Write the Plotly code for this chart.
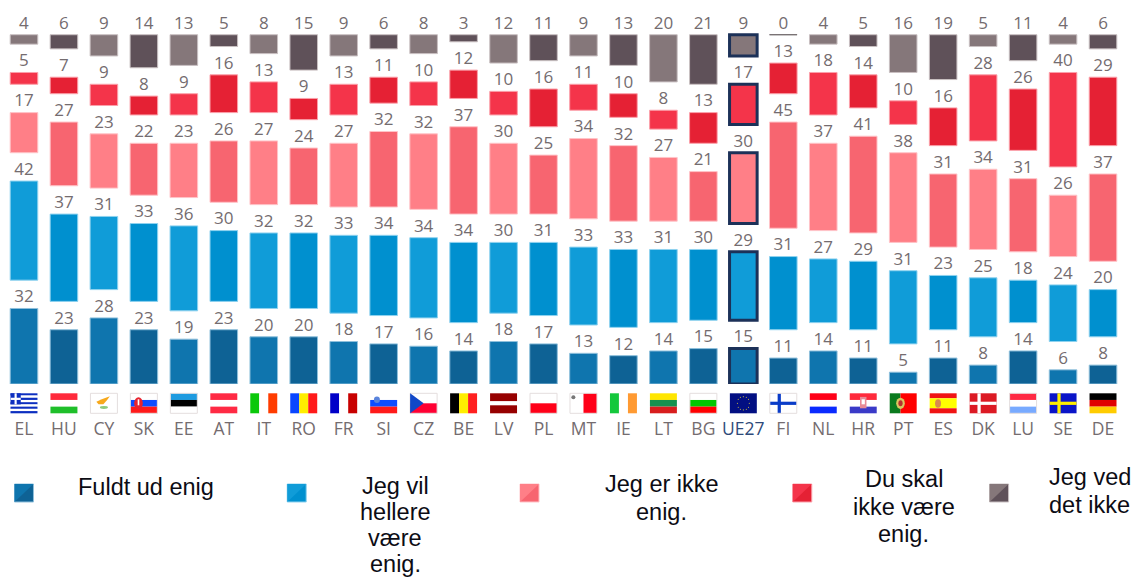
import plotly.graph_objects as go

categories = ["EL","HU","CY","SK","EE","AT","IT","RO","FR","SI","CZ","BE","LV","PL","MT","IE","LT","BG","UE27","FI","NL","HR","PT","ES","DK","LU","SE","DE"]
fuldt = [32,23,28,23,19,23,20,20,18,17,16,14,18,17,13,12,14,15,15,11,14,11,5,11,8,14,6,8]
hellere = [42,37,31,33,36,30,32,32,33,34,34,34,30,31,33,33,31,30,29,31,27,29,31,23,25,18,24,20]
ikke_enig = [17,27,23,22,23,26,27,24,27,32,32,37,30,25,34,32,27,21,30,45,37,41,38,31,34,31,26,37]
du_skal = [5,7,9,8,9,16,13,9,13,11,10,12,10,16,11,10,8,13,17,13,18,14,10,16,28,26,40,29]
ved_ikke = [4,6,9,14,13,5,8,15,9,6,8,3,12,11,9,13,20,21,9,0,4,5,16,19,5,11,4,6]

series = [fuldt, hellere, ikke_enig, du_skal, ved_ikke]
names = ["Fuldt ud enig", "Jeg vil hellere være enig.", "Jeg er ikke enig.", "Du skal ikke være enig.", "Jeg ved det ikke"]
light = ["#0f75ae", "#109cd8", "#ff7f87", "#f4344a", "#85777a"]
dark = ["#0e6295", "#0090cf", "#f76570", "#e52134", "#5f5159"]
edge = ["#8fc0dc", "#8fd2ef", "#ffc4c8", "#fba0aa", "#c9c0c2"]
navy = "#1c3158"
grey = "#746c6f"
GAP = 12
LABEL_PAD = 0.8

W, H = 1133, 577
BASE_PX = 384
PX_PER = 2.36
ML, MR = 3.5, 9.5
fig = go.Figure()

running = [0] * len(categories)
for k, vals in enumerate(series):
    base = list(running)
    tops = [b + v for b, v in zip(base, vals)]
    colors = [light[k] if i % 2 == 0 else dark[k] for i in range(len(vals))]
    lcol = [navy if c == "UE27" else (grey if v == 0 else edge[k]) for c, v in zip(categories, vals)]
    lw = [3 if c == "UE27" else 1 for c in categories]
    fig.add_trace(go.Bar(x=categories, y=vals, base=base, name=names[k], width=0.69,
                         marker=dict(color=colors, line=dict(color=lcol, width=lw)),
                         showlegend=False, hoverinfo="x+y"))
    fig.add_trace(go.Scatter(x=categories, y=[t + LABEL_PAD for t in tops], mode="text", text=[str(v) for v in vals],
                             textposition="top center", textfont=dict(family="Open Sans", size=17, color=grey),
                             showlegend=False, hoverinfo="skip", cliponaxis=False))
    running = [t + GAP for t in tops]

shapes = []
FW, FH = 27.0, 20.0
FTOP = 393.3
PW = W - ML - MR

def fx(i, u):
    return ((i + 0.5) * 40 + (u - 0.5) * FW) / PW

def fy(v):
    return (BASE_PX - (FTOP + v * FH)) / BASE_PX

def rect(i, u0, v0, u1, v1, color):
    shapes.append(dict(type="rect", xref="paper", yref="paper", x0=fx(i, u0), x1=fx(i, u1),
                       y0=fy(v0), y1=fy(v1), fillcolor=color, line=dict(width=0), layer="above"))

def oval(i, u0, v0, u1, v1, color):
    shapes.append(dict(type="circle", xref="paper", yref="paper", x0=fx(i, u0), x1=fx(i, u1),
                       y0=fy(v0), y1=fy(v1), fillcolor=color, line=dict(width=0), layer="above"))

def poly(i, pts, color):
    d = "M" + " L".join(f"{fx(i,u):.5f},{fy(v):.5f}" for u, v in pts) + " Z"
    shapes.append(dict(type="path", xref="paper", yref="paper", path=d, fillcolor=color,
                       line=dict(width=0), layer="above"))

def outline(i):
    shapes.append(dict(type="rect", xref="paper", yref="paper", x0=fx(i, 0), x1=fx(i, 1), y0=fy(0), y1=fy(1),
                       fillcolor="rgba(0,0,0,0)", line=dict(width=1, color="#e4dede"), layer="above"))

def hs(code, cols, border=False):
    i = categories.index(code)
    n = len(cols)
    for j, c in enumerate(cols):
        rect(i, 0, j / n, 1, (j + 1) / n, c)
    if border:
        outline(i)
    return i

def vs(code, cols, border=False):
    i = categories.index(code)
    n = len(cols)
    for j, c in enumerate(cols):
        rect(i, j / n, 0, (j + 1) / n, 1, c)
    if border:
        outline(i)
    return i

def nordic(code, bg, cross, border=False):
    i = categories.index(code)
    rect(i, 0, 0, 1, 1, bg)
    rect(i, 0.29, 0, 0.41, 1, cross)
    rect(i, 0, 0.42, 1, 0.58, cross)
    if border:
        outline(i)

# Greece
i = hs("EL", ["#0d2fc0", "#ffffff"] * 4 + ["#0d2fc0"])
rect(i, 0, 0, 0.38, 5 / 9, "#0d2fc0")
rect(i, 0.15, 0, 0.23, 5 / 9, "#ffffff")
rect(i, 0, 2 / 9, 0.38, 3 / 9, "#ffffff")
hs("HU", ["#ff2a3c", "#ffffff", "#1fbf2a"])
# Cyprus
i = hs("CY", ["#ffffff"], True)
poly(i, [(0.22, 0.42), (0.42, 0.3), (0.72, 0.15), (0.62, 0.34), (0.48, 0.55), (0.3, 0.55)], "#f7a81b")
oval(i, 0.35, 0.64, 0.65, 0.78, "#8fca7d")
# Slovakia
i = hs("SK", ["#ffffff", "#0d4dff", "#ff1a1a"], True)
oval(i, 0.14, 0.2, 0.46, 0.8, "#e8232e")
rect(i, 0.27, 0.3, 0.33, 0.6, "#ffffff")
hs("EE", ["#1e9be0", "#000000", "#ffffff"], True)
hs("AT", ["#ff2a44", "#ffffff", "#ff2a44"])
vs("IT", ["#0ac80a", "#ffffff", "#ff3c00"])
vs("RO", ["#0a46ff", "#ffee00", "#ff1a1a"])
vs("FR", ["#0000c8", "#ffffff", "#c80000"])
# Slovenia
i = hs("SI", ["#ffffff", "#0d4dff", "#ff1a1a"])
oval(i, 0.14, 0.16, 0.36, 0.48, "#5a84dc")
# Czech
i = hs("CZ", ["#ffffff", "#ff0033"], True)
poly(i, [(0, 0), (0.5, 0.5), (0, 1)], "#1148c8")
vs("BE", ["#000000", "#ffee00", "#ff2020"])
i = categories.index("LV")
rect(i, 0, 0, 1, 0.4, "#960000")
rect(i, 0, 0.4, 1, 0.6, "#ffffff")
rect(i, 0, 0.6, 1, 1, "#960000")
hs("PL", ["#ffffff", "#ff0018"], True)
i = vs("MT", ["#ffffff", "#ff0018"], True)
oval(i, 0.05, 0.1, 0.2, 0.3, "#777777")
vs("IE", ["#14c83c", "#ffffff", "#ff9a32"])
hs("LT", ["#ffe600", "#169150", "#d81e1e"])
hs("BG", ["#ffffff", "#00c800", "#ff0000"], True)
# EU
i = categories.index("UE27")
rect(i, 0, 0, 1, 1, "#020f82")
RING = [(0.5, 0.17), (0.61, 0.2), (0.69, 0.3), (0.72, 0.5), (0.69, 0.7), (0.61, 0.8),
        (0.5, 0.83), (0.39, 0.8), (0.31, 0.7), (0.28, 0.5), (0.31, 0.3), (0.39, 0.2)]
for u, v in RING:
    oval(i, u - 0.02, v - 0.03, u + 0.02, v + 0.03, "#c8b840")
nordic("FI", "#ffffff", "#0a3cc8", border=True)
hs("NL", ["#ff0018", "#ffffff", "#0a2aff"])
i = hs("HR", ["#ff2a3c", "#ffffff", "#3a3ac8"])
rect(i, 0.38, 0.18, 0.62, 0.75, "#e88a96")
rect(i, 0.44, 0.3, 0.56, 0.55, "#ffffff")
i = categories.index("PT")
rect(i, 0, 0, 0.4, 1, "#0a7a1e")
rect(i, 0.4, 0, 1, 1, "#ff0000")
oval(i, 0.24, 0.22, 0.56, 0.78, "#d8c860")
oval(i, 0.32, 0.35, 0.48, 0.65, "#b83030")
i = categories.index("ES")
rect(i, 0, 0, 1, 0.25, "#f01414")
rect(i, 0, 0.25, 1, 0.75, "#ffff00")
rect(i, 0, 0.75, 1, 1, "#f01414")
oval(i, 0.2, 0.3, 0.42, 0.72, "#d88a50")
nordic("DK", "#dc1a24", "#ffffff")
hs("LU", ["#ff2a44", "#ffffff", "#78aaff"], True)
nordic("SE", "#0a14c8", "#ffee00")
hs("DE", ["#000000", "#e00000", "#ffcc00"])

# legend
annots = []
LEG_X = [14, 287, 520, 793, 990]
legend_lines = [["Fuldt ud enig"], ["Jeg vil", "hellere", "være", "enig."], ["Jeg er ikke", "enig."],
                ["Du skal", "ikke være", "enig."], ["Jeg ved", "det ikke"]]
LEG_CX = [146, 395, 662, 904, 1090]
LEG_Y0 = [487, 486, 484, 479, 477]
LEG_STEP = [27.5, 26, 27.5, 27.5, 27.5]

def px(x):
    return (x - ML) / PW

def py(y):
    return (BASE_PX - y) / BASE_PX

for k in range(5):
    x0, x1, y0, y1 = px(LEG_X[k]), px(LEG_X[k] + 19), py(484), py(502)
    shapes.append(dict(type="rect", xref="paper", yref="paper", x0=x0, x1=x1, y0=y0, y1=y1,
                       fillcolor=dark[k], line=dict(width=1, color=edge[k])))
    shapes.append(dict(type="path", xref="paper", yref="paper",
                       path=f"M{x0:.5f},{y0:.5f} L{x1:.5f},{y0:.5f} L{x0:.5f},{y1:.5f} Z",
                       fillcolor=light[k], line=dict(width=0)))
    for j, line in enumerate(legend_lines[k]):
        annots.append(dict(xref="paper", yref="paper", x=px(LEG_CX[k]), y=py(LEG_Y0[k] + j * LEG_STEP[k]),
                           text=line, showarrow=False, xanchor="center", yanchor="middle",
                           font=dict(family="Liberation Sans", size=23.5, color="#0c0c14")))

ticktext = [f'<span style="color:#2f4a7a">{c}</span>' if c == "UE27" else c for c in categories]

fig.update_layout(
    width=W, height=H, autosize=False, barmode="overlay", showlegend=False,
    margin=dict(l=ML, r=MR, t=0, b=H - BASE_PX, pad=0),
    paper_bgcolor="white", plot_bgcolor="white",
    xaxis=dict(type="category", categoryorder="array", categoryarray=categories, range=[-0.5, 27.5],
               tickmode="array", tickvals=categories, ticktext=ticktext, ticks="outside", ticklen=29,
               tickcolor="rgba(0,0,0,0)", showgrid=False, zeroline=False, showline=False,
               tickangle=0, tickfont=dict(family="Open Sans", size=17.5, color=grey)),
    yaxis=dict(range=[0, BASE_PX / PX_PER], visible=False, showgrid=False, zeroline=False),
    shapes=shapes, annotations=annots,
)

fig.write_html("out.html", config={"displayModeBar": False},
               post_script="document.body.style.margin='0';document.body.style.overflow='hidden';")
